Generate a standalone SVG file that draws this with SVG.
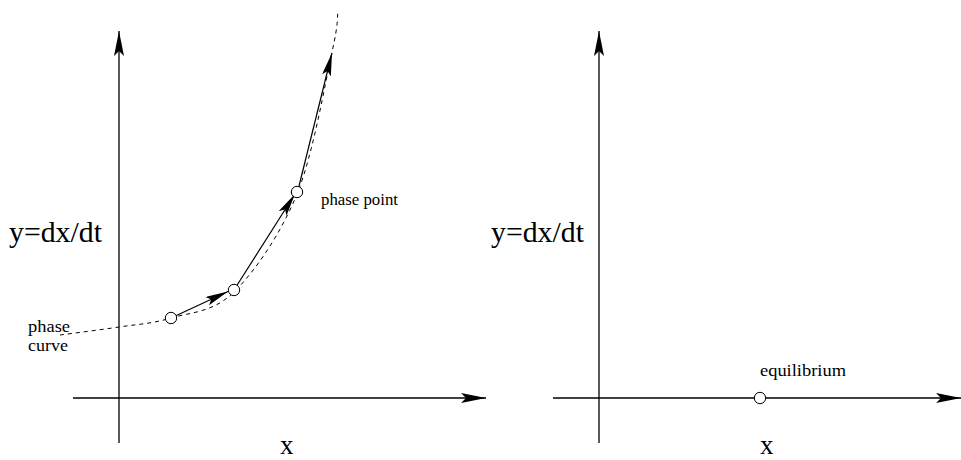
<svg xmlns="http://www.w3.org/2000/svg" width="961" height="460" viewBox="0 0 961 460">
<style>
.ax{stroke:#000;stroke-width:1.3;fill:none}
.vec{stroke:#000;stroke-width:1.2;fill:none}
.dash{stroke:#000;stroke-width:1;fill:none;stroke-dasharray:4 4}
.pt{stroke:#000;stroke-width:1;fill:#fff}
.big{font-family:"Liberation Serif","Times New Roman",serif;font-size:29px;fill:#000}
.sm{font-family:"Liberation Serif","Times New Roman",serif;font-size:17px;fill:#000}
</style>
<defs>
<marker id="axh" markerUnits="userSpaceOnUse" viewBox="0 0 25 10" refX="25" refY="5" markerWidth="25" markerHeight="10" orient="auto">
<path d="M0,0 L25,5 L0,10 L5,5 z" fill="#000"/>
</marker>
<marker id="vh" markerUnits="userSpaceOnUse" viewBox="0 0 23 9" refX="23" refY="4.5" markerWidth="23" markerHeight="9" orient="auto">
<path d="M0,0 L23,4.5 L0,9 L4.5,4.5 z" fill="#000"/>
</marker>
</defs>
<g id="connectors">
<line class="ax" x1="119" y1="443" x2="119" y2="31" marker-end="url(#axh)"/>
<line class="ax" x1="73" y1="398" x2="486" y2="398" marker-end="url(#axh)"/>
<line class="ax" x1="599" y1="443" x2="599" y2="31" marker-end="url(#axh)"/>
<line class="ax" x1="553" y1="398" x2="961" y2="398" marker-end="url(#axh)"/>
<path id="phase-curve" class="dash" d="M60,335 C69.8,333.7 100.5,329.8 119,327 C137.5,324.2 151.8,323.8 171,318 C190.2,312.2 213,312.7 234,292 C255,271.3 280.7,234 297,194 C313.3,154 325.2,82.3 332,52 C338.8,21.7 337,18.7 338,10"/>
<line class="vec" x1="171" y1="318" x2="228" y2="291.5" marker-end="url(#vh)"/>
<line class="vec" x1="234" y1="290" x2="295" y2="194" marker-end="url(#vh)"/>
<line class="vec" x1="299" y1="186" x2="332" y2="53" marker-end="url(#vh)"/>
</g>
<g id="point1"><circle class="pt" cx="171" cy="318" r="5.7"/></g>
<g id="point2"><circle class="pt" cx="234" cy="290" r="5.7"/></g>
<g id="point3"><circle class="pt" cx="297" cy="192" r="5.7"/></g>
<g id="equilibrium"><circle class="pt" cx="760" cy="398" r="5.7"/></g>
<g id="labels">
<text class="big" x="9" y="242" textLength="93" lengthAdjust="spacingAndGlyphs">y=dx/dt</text>
<text class="big" x="491" y="242" textLength="93" lengthAdjust="spacingAndGlyphs">y=dx/dt</text>
<text class="big" x="280" y="454" style="font-size:27px">x</text>
<text class="big" x="760" y="454" style="font-size:27px">x</text>
<text class="sm" x="321" y="205" textLength="77" lengthAdjust="spacingAndGlyphs">phase point</text>
<text class="sm" x="28" y="332" textLength="42" lengthAdjust="spacingAndGlyphs">phase</text>
<text class="sm" x="28" y="351" textLength="40" lengthAdjust="spacingAndGlyphs">curve</text>
<text class="sm" x="760" y="376" textLength="86" lengthAdjust="spacingAndGlyphs">equilibrium</text>
</g>
</svg>
